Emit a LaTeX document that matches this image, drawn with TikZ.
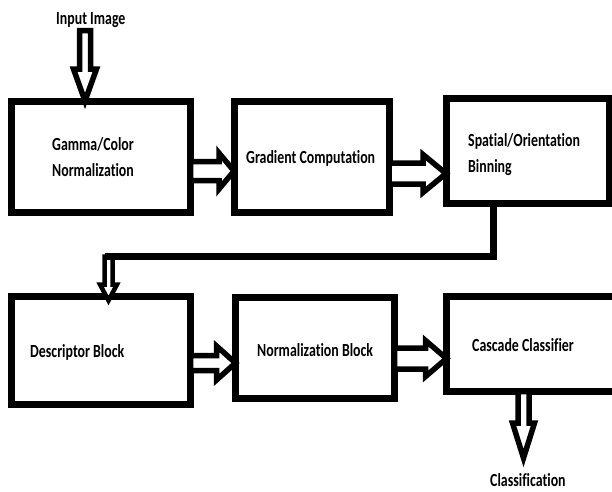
\documentclass[tikz,border=0pt]{standalone}
\usepackage{fontspec}
\newfontfamily\lbl{Carlito}[FakeStretch=0.75,Ligatures={NoCommon}]
\begin{document}
\begin{tikzpicture}[x=1pt,y=-1pt,
  hw/.store in=\hw, hh/.store in=\hh, hl/.store in=\hl,
  box/.style={draw=black, line width=7pt, fill=white, inner sep=0pt, outer sep=0pt},
  txt/.style={font=\lbl\bfseries\fontsize{18.5}{26}\selectfont, text=black, inner sep=0pt, anchor=base west, align=left},
  fat/.style={draw=black, fill=white, line width=5.5pt, line join=miter, miter limit=10},
  rarrow/.style={fat, to path={([yshift=\hw]\tikztostart) -- ([xshift=-\hl,yshift=\hw]\tikztotarget) -- ([xshift=-\hl,yshift=\hh]\tikztotarget) -- (\tikztotarget) -- ([xshift=-\hl,yshift=-\hh]\tikztotarget) -- ([xshift=-\hl,yshift=-\hw]\tikztotarget) -- ([yshift=-\hw]\tikztostart) -- cycle}},
  darrow/.style={fat, to path={([xshift=\hw]\tikztostart) -- ([xshift=\hw,yshift=\hl]\tikztotarget) -- ([xshift=\hh,yshift=\hl]\tikztotarget) -- (\tikztotarget) -- ([xshift=-\hh,yshift=\hl]\tikztotarget) -- ([xshift=-\hw,yshift=\hl]\tikztotarget) -- ([xshift=-\hw]\tikztostart) -- cycle}},
  link/.style={draw=black, line width=7pt, line join=miter}
]
\clip (0,0) rectangle (612,491);
\fill[white] (0,0) rectangle (612,491);

% boxes
\node[box, minimum width=179pt, minimum height=111pt] (b1) at (101,156.5) {};
\node[box, minimum width=155pt, minimum height=111pt] (b2) at (311.5,156.5) {};
\node[box, minimum width=163pt, minimum height=105pt] (b3) at (527.5,151) {};
\node[box, minimum width=179pt, minimum height=108pt] (b4) at (101,350.5) {};
\node[box, minimum width=159pt, minimum height=101pt] (b5) at (315,348) {};
\node[box, minimum width=178.5pt, minimum height=95pt] (b6) at (535.75,344) {};

% texts
\node[txt] (tin) at (56,24.5) {Input Image};
\node[txt] (t1) at (52,176.5) {Gamma/Color\\Normalization};
\node[txt] (t2) at (246,163.5) {Gradient Computation};
\node[txt] (t3) at (468,172.5) {Spatial/Orientation\\Binning};
\node[txt] (t4) at (30,357.5) {Descriptor Block};
\node[txt] (t5) at (257,356.5) {Normalization Block};
\node[txt] (t6) at (472,351.5) {Cascade Classifier};
\node[txt] (tout) at (490,486.5) {Classification};

% coordinates for connectors
\coordinate (in0) at (85,30.5);
\coordinate (in1) at (b1.north -| in0);
\coordinate (a1s) at (b1.east |- 0,171);
\coordinate (a1e) at (b2.west |- 0,171);
\coordinate (a2s) at (b2.east |- 0,173.5);
\coordinate (a2e) at (b3.west |- 0,173.5);
\coordinate (a4s) at (b4.east |- 0,363);
\coordinate (a4e) at (b5.west |- 0,363);
\coordinate (a5s) at (b5.east |- 0,358.5);
\coordinate (a5e) at (b6.west |- 0,358.5);
\coordinate (o0) at (b6.south -| 523.5,0);
\coordinate (o1) at (523.5,458);
\coordinate (l0) at (b3.south -| 493.5,0);
\coordinate (l1) at (493.5,256.5);
\coordinate (l2) at (105,256.5);
\coordinate (d0) at (108.5,256.5);
\coordinate (d1) at (b4.north -| d0);

% connectors
\draw[darrow, hw=5.5pt, hh=11.5pt, hl=32pt] (in0) to (in1);
\draw[rarrow, hw=9.5pt, hh=18pt, hl=15pt] (a1s) to (a1e);
\draw[rarrow, hw=10.5pt, hh=19pt, hl=23pt] (a2s) to (a2e);
\draw[rarrow, hw=7.5pt, hh=17pt, hl=19pt] (a4s) to (a4e);
\draw[rarrow, hw=10.5pt, hh=18pt, hl=21pt] (a5s) to (a5e);
\draw[darrow, hw=5.5pt, hh=11pt, hl=35pt] (o0) to (o1);
\draw[darrow, line width=4.5pt, hw=4pt, hh=8.5pt, hl=16pt] (d0) to ([yshift=-4pt]d1);
\draw[link] (l0) -- (l1) -- (l2);
\end{tikzpicture}
\end{document}
